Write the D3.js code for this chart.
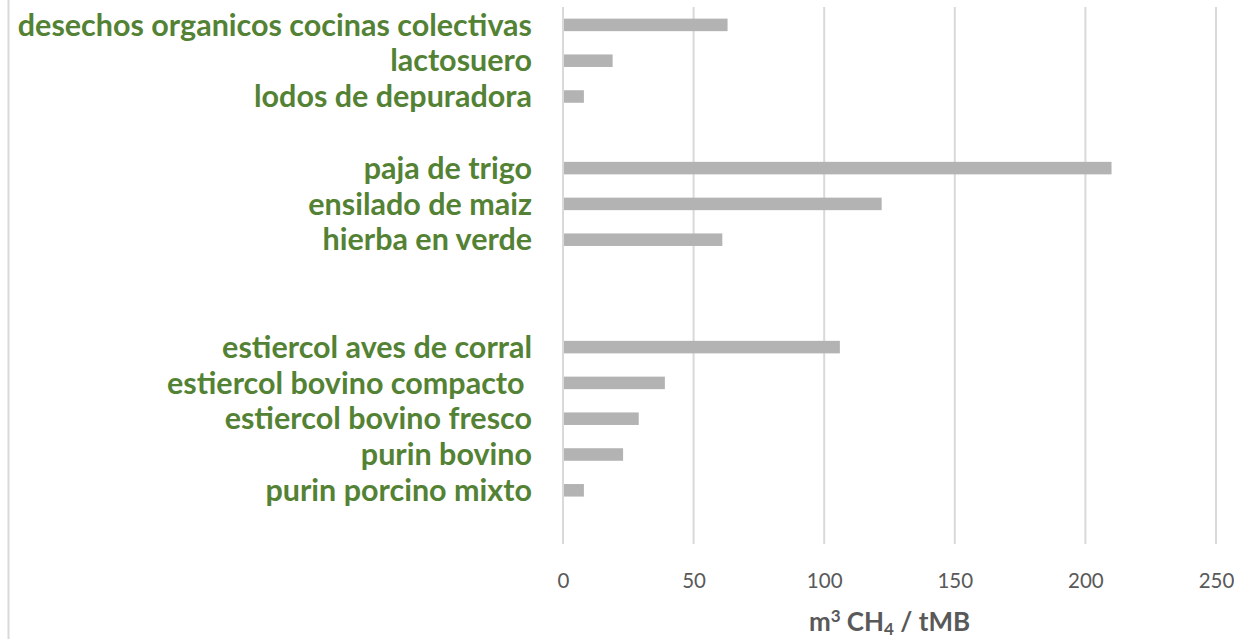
<!DOCTYPE html>
<meta charset="utf-8">
<style>
body { margin: 0; background: #fff; }
.label { font: bold 30.5px Lato, "Open Sans", sans-serif; fill: #548235; white-space: pre; }
.tick text { font: 20.5px Lato, "Open Sans", sans-serif; fill: #595959; }
.title { font: bold 26px Lato, "Open Sans", sans-serif; fill: #595959; }
</style>
<body>
<svg width="1234" height="639"></svg>
<script src="https://cdn.jsdelivr.net/npm/d3@7"></script>
<script>

// top to bottom, blank rows are gaps in the source chart
var categories = [
  "desechos organicos cocinas colectivas",
  "lactosuero",
  "lodos de depuradora",
  "",
  "paja de trigo",
  "ensilado de maiz",
  "hierba en verde",
  "",
  "",
  "estiercol aves de corral",
  "estiercol bovino compacto ",
  "estiercol bovino fresco",
  "purin bovino",
  "purin porcino mixto",
  ""
];
var values = [63, 19, 8, null, 210, 122, 61, null, null, 106, 39, 29, 23, 8, null];
var ticks = [0, 50, 100, 150, 200, 250];

var svg = d3.select("svg");

var x = d3.scaleLinear().domain([0, 250]).range([563, 1216]);
var y = d3.scaleBand()
    .domain(d3.range(categories.length))
    .range([7, 544])
    .paddingInner(0.65)
    .paddingOuter(0.325);

// chart border (left edge only visible)
svg.append("line")
    .attr("x1", 8.5).attr("x2", 8.5)
    .attr("y1", 0).attr("y2", 639)
    .attr("stroke", "#d9d9d9").attr("stroke-width", 2);

// gridlines
svg.append("g").selectAll("line")
  .data(ticks)
  .enter().append("line")
    .attr("x1", function(d) { return x(d); })
    .attr("x2", function(d) { return x(d); })
    .attr("y1", 7).attr("y2", 544)
    .attr("stroke", "#d9d9d9").attr("stroke-width", 2);

// bars
svg.append("g").selectAll("rect")
  .data(values.map(function(v, i) { return {i: i, v: v}; }).filter(function(d) { return d.v != null; }))
  .enter().append("rect")
    .attr("x", x(0) + 1)
    .attr("y", function(d) { return y(d.i); })
    .attr("width", function(d) { return x(d.v) - x(0) - 1; })
    .attr("height", y.bandwidth())
    .attr("fill", "#b3b3b3");

// category labels
svg.append("g").selectAll("text")
  .data(categories.map(function(c, i) { return {i: i, c: c}; }).filter(function(d) { return d.c; }))
  .enter().append("text")
    .attr("class", "label")
    .attr("x", 532)
    .attr("y", function(d) { return y(d.i) + y.bandwidth() / 2; })
    .attr("dy", "0.35em")
    .attr("text-anchor", "end")
    .text(function(d) { return d.c; });

// x axis (no domain line, no ticks)
var axis = svg.append("g")
    .attr("transform", "translate(0,573)")
    .call(d3.axisBottom(x).tickValues(ticks).tickSize(0).tickPadding(0));
axis.select(".domain").remove();
axis.selectAll(".tick text").attr("dy", "0.71em");

var title = svg.append("text")
    .attr("class", "title")
    .attr("x", (x(0) + x(250)) / 2)
    .attr("y", 631)
    .attr("text-anchor", "middle");
title.append("tspan").text("m");
title.append("tspan").attr("font-size", "17px").attr("dy", "-9").text("3");
title.append("tspan").attr("dy", "9").text(" CH");
title.append("tspan").attr("font-size", "17px").attr("dy", "4").text("4");
title.append("tspan").attr("dy", "-4").text(" / tMB");

</script>
</body>
